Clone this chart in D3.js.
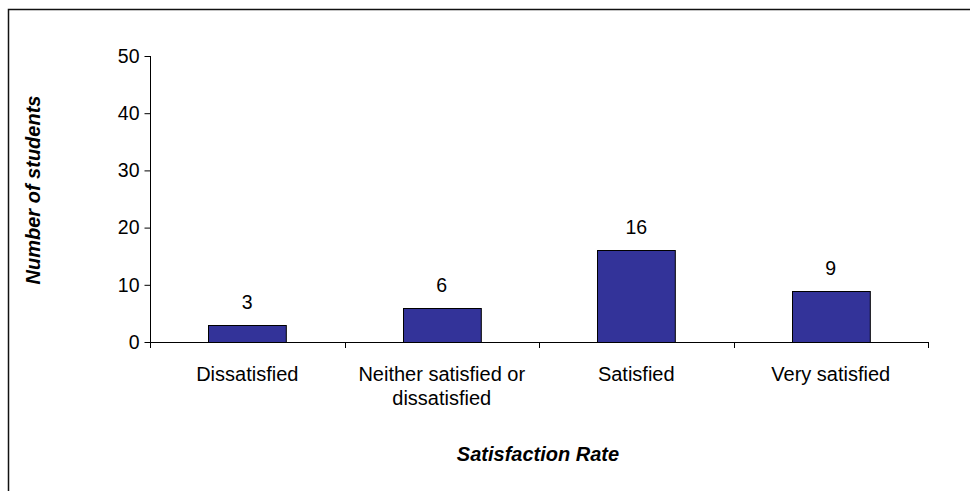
<!DOCTYPE html>
<html>
<head>
<meta charset="utf-8">
<script src="https://cdn.jsdelivr.net/npm/d3@7"></script>
<style>
  body { margin: 0; background: #fff; }
  svg { display: block; font-family: "Liberation Sans", Arial, sans-serif; }
</style>
</head>
<body>
<svg id="chart" width="970" height="491"></svg>
<script>
let categories = [['Dissatisfied'], ['Neither satisfied or', 'dissatisfied'], ['Satisfied'], ['Very satisfied']];
let counts = [3, 6, 16, 9];
let yTicks = [0, 10, 20, 30, 40, 50];

let svg = d3.select('#chart');

// outer frame (runs off the right and bottom edge)
svg.append('rect')
    .attr('x', 8.5).attr('y', 9.5)
    .attr('width', 1000).attr('height', 600)
    .attr('fill', 'none')
    .attr('stroke', '#111')
    .attr('stroke-width', 1.5);

let xScale = d3.scaleBand()
    .domain(d3.range(categories.length))
    .range([150, 928])
    .paddingInner(0.6)
    .paddingOuter(0.3);

let yScale = d3.scaleLinear()
    .domain([0, 50])
    .range([342, 56]);

// y axis
let yAxis = svg.append('g')
    .attr('transform', 'translate(150.5,0)')
    .call(d3.axisLeft(yScale).tickValues(yTicks).tickSize(6).tickPadding(5));
yAxis.select('.domain').attr('d', 'M0,' + yScale(50) + 'V' + yScale(0));
yAxis.selectAll('text')
    .attr('font-size', 19.5)
    .attr('font-family', '"Liberation Sans", Arial, sans-serif')
    .attr('fill', '#000');

// x axis line and ticks between categories
let xg = svg.append('g');
xg.append('line')
    .attr('x1', 150).attr('x2', 928)
    .attr('y1', yScale(0) + 0.5).attr('y2', yScale(0) + 0.5)
    .attr('stroke', '#000');
xg.selectAll('.xtick')
    .data(d3.range(categories.length + 1))
    .enter()
    .append('line')
    .attr('x1', i => Math.round(150 + i * (928 - 150) / categories.length) + 0.5)
    .attr('x2', i => Math.round(150 + i * (928 - 150) / categories.length) + 0.5)
    .attr('y1', yScale(0))
    .attr('y2', yScale(0) + 6)
    .attr('stroke', '#000');

// bars
svg.selectAll('.bar')
    .data(counts)
    .enter()
    .append('rect')
    .attr('x', (d, i) => Math.round(xScale(i)) + 0.5)
    .attr('y', d => Math.round(yScale(d)) + 0.5)
    .attr('width', xScale.bandwidth())
    .attr('height', d => yScale(0) - Math.round(yScale(d)))
    .attr('fill', '#333399')
    .attr('stroke', '#000')
    .attr('stroke-width', 1);

// value labels
svg.selectAll('.val')
    .data(counts)
    .enter()
    .append('text')
    .attr('x', (d, i) => xScale(i) + xScale.bandwidth() / 2)
    .attr('y', d => yScale(d) - 16)
    .attr('text-anchor', 'middle')
    .attr('font-size', 19.5)
    .text(d => d);

// category labels
svg.selectAll('.cat')
    .data(categories)
    .enter()
    .append('text')
    .attr('text-anchor', 'middle')
    .attr('font-size', 20)
    .attr('transform', (d, i) => 'translate(' + (xScale(i) + xScale.bandwidth() / 2) + ',381)')
    .selectAll('tspan')
    .data(d => d)
    .enter()
    .append('tspan')
    .attr('x', 0)
    .attr('dy', (d, j) => j === 0 ? 0 : 24)
    .text(d => d);

// axis titles
svg.append('text')
    .attr('x', 538).attr('y', 461)
    .attr('text-anchor', 'middle')
    .attr('font-size', 20)
    .attr('font-weight', 'bold')
    .attr('font-style', 'italic')
    .text('Satisfaction Rate');

svg.append('text')
    .attr('transform', 'translate(40,190) rotate(-90)')
    .attr('text-anchor', 'middle')
    .attr('font-size', 20)
    .attr('font-weight', 'bold')
    .attr('font-style', 'italic')
    .text('Number of students');
</script>
</body>
</html>
